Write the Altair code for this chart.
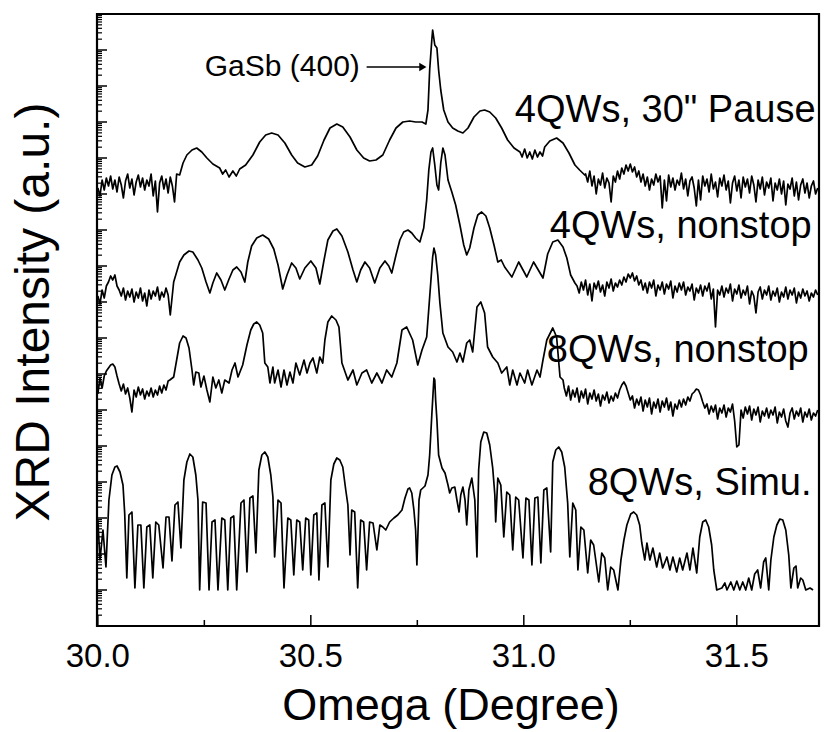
import math
import altair as alt
import pandas as pd

# ---------------------------------------------------------------------------
# Scan data: (omega in degrees, offset log intensity in a.u.)
# ---------------------------------------------------------------------------
pause_30s = [
    (30.000, 438), (30.005, 430), (30.010, 446), (30.015, 436), (30.020, 448), (30.025, 440),
    (30.030, 450), (30.035, 437), (30.040, 446), (30.045, 434), (30.050, 449), (30.055, 441),
    (30.060, 428), (30.065, 445), (30.070, 452), (30.075, 438), (30.080, 447), (30.085, 431),
    (30.090, 444), (30.095, 451), (30.100, 439), (30.105, 448), (30.110, 436), (30.115, 446),
    (30.120, 440), (30.125, 452), (30.130, 430), (30.135, 445), (30.140, 414), (30.145, 443),
    (30.150, 450), (30.155, 437), (30.160, 447), (30.165, 433), (30.170, 449), (30.175, 440),
    (30.180, 424), (30.185, 452),
    (30.192, 451), (30.200, 463), (30.209, 471), (30.221, 476), (30.232, 478), (30.244, 474),
    (30.256, 468), (30.270, 462), (30.286, 458), (30.293, 452), (30.300, 456), (30.308, 449),
    (30.317, 455), (30.325, 450), (30.333, 457), (30.347, 461), (30.364, 471), (30.380, 484),
    (30.394, 491), (30.408, 493), (30.423, 491), (30.439, 483), (30.455, 471), (30.469, 463),
    (30.486, 459), (30.502, 461), (30.516, 470), (30.531, 486), (30.545, 498), (30.561, 502),
    (30.575, 499), (30.592, 489), (30.608, 476), (30.624, 468), (30.638, 465), (30.653, 466),
    (30.669, 471), (30.685, 486), (30.700, 498), (30.716, 504), (30.732, 505), (30.746, 504),
    (30.761, 504), (30.770, 502), (30.775, 516), (30.779, 556), (30.784, 586), (30.786, 596),
    (30.791, 581), (30.796, 578), (30.800, 556), (30.805, 536), (30.812, 516), (30.822, 504),
    (30.833, 498), (30.845, 495), (30.857, 493), (30.869, 498), (30.883, 509), (30.897, 515),
    (30.908, 516), (30.920, 514), (30.934, 508), (30.948, 498), (30.962, 486), (30.977, 478),
    (30.991, 474), (30.996, 469), (31.002, 477), (31.008, 468), (31.014, 474), (31.020, 467),
    (31.026, 476), (31.032, 469), (31.038, 474), (31.044, 470), (31.049, 479), (31.061, 485),
    (31.077, 488), (31.092, 483), (31.106, 473), (31.120, 461), (31.131, 456), (31.143, 451),
    (31.145, 452), (31.150, 444), (31.155, 455), (31.160, 440), (31.165, 450), (31.170, 432),
    (31.175, 447), (31.180, 441), (31.185, 453), (31.190, 438), (31.195, 448), (31.200, 443),
    (31.205, 424), (31.210, 450), (31.215, 444), (31.220, 455), (31.225, 447), (31.230, 458),
    (31.235, 452), (31.240, 461), (31.245, 455), (31.250, 462), (31.255, 454), (31.260, 459),
    (31.265, 449), (31.270, 455), (31.275, 444), (31.280, 452), (31.285, 440), (31.290, 449),
    (31.295, 436), (31.300, 447), (31.305, 441), (31.310, 452), (31.315, 444), (31.320, 450),
    (31.325, 418), (31.330, 446), (31.335, 425), (31.340, 451), (31.345, 439), (31.350, 448),
    (31.355, 436), (31.360, 446), (31.365, 441), (31.370, 453), (31.375, 437), (31.380, 447),
    (31.385, 430), (31.390, 445), (31.395, 449), (31.400, 438), (31.405, 420), (31.410, 446),
    (31.415, 426), (31.420, 450), (31.425, 440), (31.430, 447), (31.435, 434), (31.440, 452),
    (31.445, 437), (31.450, 444), (31.455, 429), (31.460, 448), (31.465, 440), (31.470, 451),
    (31.475, 436), (31.480, 445), (31.485, 423), (31.490, 443), (31.495, 450), (31.500, 435),
    (31.505, 446), (31.510, 428), (31.515, 449), (31.520, 439), (31.525, 447), (31.530, 433),
    (31.535, 450), (31.540, 441), (31.545, 424), (31.550, 446), (31.555, 437), (31.560, 449),
    (31.565, 431), (31.570, 444), (31.575, 438), (31.580, 448), (31.585, 425), (31.590, 443),
    (31.595, 436), (31.600, 447), (31.605, 432), (31.610, 445), (31.615, 421), (31.620, 442),
    (31.625, 437), (31.630, 448), (31.635, 430), (31.640, 444), (31.645, 426), (31.650, 441),
    (31.655, 447), (31.660, 433), (31.665, 443), (31.670, 428), (31.675, 440), (31.680, 445),
    (31.685, 432), (31.690, 438),
]

nonstop_4qw = [
    (30.000, 330), (30.005, 322), (30.010, 336), (30.015, 328), (30.020, 340), (30.025, 344),
    (30.030, 350), (30.035, 346), (30.040, 351), (30.045, 340), (30.050, 336), (30.055, 330),
    (30.060, 338), (30.065, 326), (30.070, 335), (30.075, 329), (30.080, 337), (30.085, 324),
    (30.090, 334), (30.095, 328), (30.100, 338), (30.105, 325), (30.110, 333), (30.115, 320),
    (30.120, 336), (30.125, 327), (30.130, 335), (30.135, 330), (30.140, 339), (30.145, 326),
    (30.150, 334), (30.155, 329), (30.160, 338), (30.165, 331), (30.170, 311),
    (30.178, 344), (30.185, 354), (30.192, 364), (30.202, 371), (30.214, 375), (30.223, 374),
    (30.235, 366), (30.244, 358), (30.254, 344), (30.263, 333), (30.270, 343), (30.279, 353),
    (30.289, 346), (30.298, 336), (30.308, 347), (30.317, 356), (30.326, 359), (30.336, 354),
    (30.345, 344), (30.352, 364), (30.361, 380), (30.373, 388), (30.387, 391), (30.401, 387),
    (30.413, 377), (30.423, 361), (30.434, 337), (30.444, 351), (30.455, 363), (30.465, 358),
    (30.474, 347), (30.486, 358), (30.500, 365), (30.512, 358), (30.521, 342), (30.531, 366),
    (30.540, 386), (30.552, 395), (30.561, 397), (30.573, 390), (30.587, 374), (30.599, 356),
    (30.608, 344), (30.617, 356), (30.627, 364), (30.638, 358), (30.650, 343), (30.662, 358),
    (30.674, 365), (30.683, 360), (30.690, 353), (30.700, 371), (30.709, 386), (30.718, 394),
    (30.728, 396), (30.737, 393), (30.746, 388), (30.756, 384), (30.765, 398), (30.772, 426),
    (30.777, 456), (30.782, 474), (30.786, 478), (30.791, 461), (30.796, 441), (30.800, 436),
    (30.805, 463), (30.810, 478), (30.815, 471), (30.822, 446), (30.831, 434), (30.840, 421),
    (30.850, 401), (30.859, 381), (30.866, 371), (30.873, 378), (30.883, 398), (30.892, 411),
    (30.901, 414), (30.911, 410), (30.920, 398), (30.930, 381), (30.939, 364), (30.947, 366),
    (30.955, 359), (30.972, 349), (30.988, 364), (31.007, 349), (31.023, 364), (31.045, 348),
    (31.056, 372), (31.068, 384), (31.080, 386), (31.092, 379), (31.101, 368), (31.110, 351),
    (31.120, 343),
    (31.125, 340), (31.130, 333), (31.135, 344), (31.140, 336), (31.145, 346), (31.150, 331),
    (31.155, 342), (31.160, 325), (31.165, 343), (31.170, 337), (31.175, 345), (31.180, 334),
    (31.185, 341), (31.190, 330), (31.195, 344), (31.200, 338), (31.205, 347), (31.210, 335),
    (31.215, 343), (31.220, 339), (31.225, 346), (31.230, 341), (31.235, 349), (31.240, 344),
    (31.245, 352), (31.250, 348), (31.255, 353), (31.260, 345), (31.265, 350), (31.270, 341),
    (31.275, 346), (31.280, 336), (31.285, 343), (31.290, 333), (31.295, 344), (31.300, 338),
    (31.305, 346), (31.310, 330), (31.315, 341), (31.320, 336), (31.325, 344), (31.330, 332),
    (31.335, 342), (31.340, 337), (31.345, 345), (31.350, 328), (31.355, 340), (31.360, 334),
    (31.365, 343), (31.370, 336), (31.375, 344), (31.380, 331), (31.385, 339), (31.390, 335),
    (31.395, 342), (31.400, 326), (31.405, 338), (31.410, 333), (31.415, 341), (31.420, 330),
    (31.425, 340), (31.430, 335), (31.435, 343), (31.440, 327), (31.445, 337), (31.450, 299),
    (31.455, 336), (31.460, 331), (31.465, 340), (31.470, 329), (31.475, 338), (31.480, 333),
    (31.485, 342), (31.490, 325), (31.495, 337), (31.500, 332), (31.505, 341), (31.510, 328),
    (31.515, 336), (31.520, 331), (31.525, 340), (31.530, 322), (31.535, 335), (31.540, 330),
    (31.545, 313), (31.550, 334), (31.555, 339), (31.560, 327), (31.565, 336), (31.570, 331),
    (31.575, 340), (31.580, 326), (31.585, 335), (31.590, 330), (31.595, 338), (31.600, 324),
    (31.605, 334), (31.610, 329), (31.615, 339), (31.620, 327), (31.625, 336), (31.630, 331),
    (31.635, 338), (31.640, 323), (31.645, 334), (31.650, 328), (31.655, 337), (31.660, 330),
    (31.665, 335), (31.670, 325), (31.675, 333), (31.680, 329), (31.685, 336), (31.690, 331),
]

nonstop_8qw = [
    (30.000, 232), (30.005, 248), (30.010, 238), (30.015, 250), (30.020, 255), (30.025, 258),
    (30.030, 261), (30.035, 262), (30.040, 259), (30.045, 250), (30.050, 242), (30.055, 235),
    (30.060, 242), (30.065, 232), (30.070, 238), (30.075, 228), (30.080, 214), (30.085, 236),
    (30.090, 229), (30.095, 239), (30.100, 231), (30.105, 237), (30.110, 227), (30.115, 235),
    (30.120, 230), (30.125, 238), (30.130, 229), (30.135, 236), (30.140, 231), (30.145, 240),
    (30.150, 233), (30.155, 241), (30.160, 236), (30.165, 245),
    (30.169, 246), (30.178, 249), (30.185, 266), (30.192, 283), (30.200, 290), (30.207, 288),
    (30.214, 278), (30.221, 256), (30.225, 241), (30.230, 254), (30.237, 253), (30.242, 239),
    (30.249, 250), (30.256, 236), (30.263, 224), (30.270, 249), (30.277, 238), (30.284, 246),
    (30.291, 233), (30.298, 246), (30.308, 243), (30.315, 256), (30.322, 263), (30.329, 249),
    (30.340, 261), (30.350, 281), (30.359, 296), (30.366, 302), (30.373, 304), (30.380, 301),
    (30.387, 293), (30.392, 263), (30.399, 259), (30.404, 243), (30.411, 259), (30.415, 243),
    (30.423, 256), (30.430, 239), (30.437, 256), (30.444, 241), (30.451, 254), (30.458, 243),
    (30.465, 263), (30.474, 251), (30.484, 266), (30.491, 253), (30.498, 263), (30.505, 268),
    (30.514, 253), (30.521, 269), (30.528, 263), (30.533, 286), (30.540, 304), (30.549, 310),
    (30.559, 306), (30.566, 299), (30.573, 263), (30.587, 246), (30.599, 256), (30.608, 241),
    (30.620, 253), (30.631, 256), (30.643, 243), (30.655, 253), (30.667, 243), (30.678, 256),
    (30.690, 249), (30.702, 263), (30.714, 296), (30.725, 299), (30.739, 286), (30.751, 261),
    (30.761, 276), (30.772, 289), (30.779, 329), (30.786, 369), (30.789, 378), (30.793, 371),
    (30.798, 351), (30.803, 323), (30.810, 293), (30.822, 279), (30.833, 274), (30.843, 264),
    (30.850, 273), (30.857, 264), (30.866, 283), (30.873, 286), (30.880, 274), (30.890, 319),
    (30.899, 324), (30.908, 313), (30.915, 279), (30.927, 269), (30.939, 263), (30.948, 253),
    (30.960, 259), (30.967, 241), (30.974, 256), (30.984, 241), (30.991, 253), (31.002, 243),
    (31.009, 256), (31.019, 241), (31.031, 256), (31.038, 249), (31.045, 266), (31.054, 286),
    (31.068, 298), (31.077, 289), (31.085, 249), (31.092, 246),
    (31.095, 238), (31.100, 230), (31.105, 240), (31.110, 226), (31.115, 236), (31.120, 229),
    (31.125, 238), (31.130, 224), (31.135, 235), (31.140, 228), (31.145, 237), (31.150, 222),
    (31.155, 233), (31.160, 227), (31.165, 236), (31.170, 225), (31.175, 232), (31.180, 220),
    (31.185, 231), (31.190, 226), (31.195, 234), (31.200, 223), (31.205, 230), (31.210, 225),
    (31.215, 233), (31.220, 228), (31.225, 236), (31.230, 241), (31.235, 244), (31.240, 240),
    (31.245, 233), (31.250, 226), (31.255, 230), (31.260, 218), (31.265, 227), (31.270, 221),
    (31.275, 229), (31.280, 215), (31.285, 226), (31.290, 219), (31.295, 228), (31.300, 212),
    (31.305, 224), (31.310, 218), (31.315, 227), (31.320, 214), (31.325, 225), (31.330, 219),
    (31.335, 228), (31.340, 216), (31.345, 224), (31.350, 210), (31.355, 222), (31.360, 217),
    (31.365, 226), (31.370, 219), (31.375, 227), (31.380, 221), (31.385, 229), (31.390, 225),
    (31.395, 232), (31.400, 234), (31.405, 237), (31.410, 236), (31.415, 231), (31.420, 224),
    (31.425, 218), (31.430, 222), (31.435, 212), (31.440, 220), (31.445, 214), (31.450, 221),
    (31.455, 207), (31.460, 218), (31.465, 213), (31.470, 221), (31.475, 209), (31.480, 218),
    (31.485, 214), (31.490, 222), (31.495, 205), (31.500, 179), (31.505, 181), (31.510, 216),
    (31.515, 208), (31.520, 219), (31.525, 212), (31.530, 220), (31.535, 206), (31.540, 217),
    (31.545, 211), (31.550, 219), (31.555, 204), (31.560, 215), (31.565, 210), (31.570, 218),
    (31.575, 208), (31.580, 216), (31.585, 211), (31.590, 219), (31.595, 203), (31.600, 214),
    (31.605, 209), (31.610, 217), (31.615, 205), (31.620, 199), (31.625, 213), (31.630, 218),
    (31.635, 207), (31.640, 215), (31.645, 210), (31.650, 218), (31.655, 204), (31.660, 214),
    (31.665, 209), (31.670, 217), (31.675, 206), (31.680, 213), (31.685, 210), (31.690, 216),
]

simulation_8qw = [
    (30.000, 106), (30.005, 66), (30.012, 96), (30.019, 59), (30.026, 126), (30.033, 151),
    (30.040, 159), (30.045, 160), (30.052, 154), (30.059, 141), (30.063, 113), (30.068, 48),
    (30.073, 111), (30.080, 114), (30.087, 38), (30.094, 101), (30.101, 101), (30.108, 38),
    (30.115, 99), (30.122, 101), (30.129, 48), (30.136, 104), (30.143, 101), (30.153, 58),
    (30.160, 109), (30.167, 109), (30.174, 65), (30.181, 121), (30.188, 124), (30.195, 78),
    (30.202, 146), (30.209, 164), (30.216, 172), (30.223, 169), (30.230, 151), (30.235, 126),
    (30.239, 36), (30.246, 124), (30.254, 123), (30.261, 36), (30.268, 104), (30.275, 106),
    (30.282, 36), (30.291, 108), (30.298, 106), (30.305, 36), (30.312, 108), (30.319, 110),
    (30.326, 36), (30.336, 123), (30.343, 126), (30.350, 54), (30.357, 128), (30.364, 130),
    (30.371, 73), (30.378, 156), (30.385, 171), (30.392, 174), (30.399, 169), (30.406, 151),
    (30.411, 129), (30.415, 69), (30.423, 126), (30.430, 123), (30.437, 38), (30.446, 108),
    (30.453, 106), (30.460, 51), (30.467, 106), (30.474, 104), (30.481, 56), (30.488, 108),
    (30.495, 106), (30.500, 51), (30.507, 111), (30.514, 113), (30.519, 46), (30.526, 121),
    (30.533, 123), (30.540, 59), (30.547, 146), (30.554, 162), (30.561, 168), (30.568, 166),
    (30.575, 159), (30.582, 136), (30.587, 121), (30.592, 71), (30.596, 116), (30.603, 114),
    (30.610, 38), (30.617, 106), (30.624, 104), (30.631, 56), (30.638, 104), (30.646, 103),
    (30.655, 76), (30.662, 101), (30.669, 99), (30.676, 96), (30.685, 104), (30.695, 108),
    (30.704, 111), (30.714, 116), (30.721, 128), (30.728, 137), (30.732, 138), (30.737, 133),
    (30.742, 116), (30.746, 96), (30.749, 61), (30.754, 126), (30.758, 136), (30.768, 140),
    (30.775, 151), (30.779, 171), (30.784, 211), (30.789, 248), (30.791, 246), (30.793, 226),
    (30.796, 206), (30.800, 171), (30.808, 158), (30.815, 153), (30.822, 141), (30.826, 133),
    (30.831, 138), (30.838, 139), (30.843, 126), (30.848, 114), (30.852, 131), (30.857, 139),
    (30.862, 126), (30.866, 101), (30.871, 136), (30.878, 148), (30.885, 126), (30.890, 69),
    (30.894, 156), (30.899, 184), (30.906, 194), (30.913, 193), (30.920, 181), (30.927, 158),
    (30.932, 131), (30.934, 104), (30.939, 148), (30.946, 141), (30.953, 89), (30.960, 134),
    (30.967, 131), (30.974, 76), (30.981, 129), (30.988, 126), (30.998, 68), (31.005, 128),
    (31.012, 126), (31.019, 61), (31.026, 128), (31.033, 129), (31.040, 63), (31.047, 136),
    (31.054, 138), (31.063, 74), (31.068, 164), (31.075, 176), (31.082, 179), (31.089, 174),
    (31.096, 159), (31.103, 123), (31.108, 69), (31.115, 123), (31.122, 116), (31.127, 56),
    (31.134, 99), (31.141, 96), (31.150, 53), (31.157, 86), (31.164, 81), (31.176, 44),
    (31.183, 73), (31.190, 68), (31.197, 36), (31.204, 59), (31.211, 56), (31.221, 36),
    (31.228, 66), (31.235, 86), (31.242, 101), (31.251, 112), (31.258, 114), (31.265, 111),
    (31.272, 101), (31.277, 83), (31.284, 66), (31.289, 83), (31.296, 66), (31.303, 78),
    (31.312, 59), (31.319, 73), (31.326, 58), (31.336, 69), (31.343, 56), (31.350, 69),
    (31.359, 54), (31.366, 68), (31.373, 56), (31.383, 73), (31.390, 56), (31.397, 78),
    (31.406, 53), (31.413, 89), (31.420, 104), (31.427, 106), (31.434, 99), (31.441, 81),
    (31.446, 56), (31.453, 36), (31.465, 38), (31.472, 43), (31.477, 36), (31.486, 44),
    (31.493, 36), (31.500, 45), (31.507, 36), (31.514, 44), (31.521, 36), (31.528, 48),
    (31.535, 36), (31.542, 52), (31.549, 56), (31.556, 38), (31.563, 64), (31.568, 68),
    (31.575, 36), (31.580, 66), (31.587, 89), (31.594, 101), (31.601, 107), (31.608, 106),
    (31.615, 96), (31.622, 71), (31.627, 38), (31.634, 58), (31.639, 60), (31.643, 38),
    (31.650, 48), (31.655, 46), (31.662, 36), (31.672, 38), (31.679, 36),
]

scan_names = ['4QWs, 30" Pause', "4QWs, nonstop", "8QWs, nonstop", "8QWs, Simu."]
label_omega = [30.979, 31.061, 31.054, 31.150]
label_level = [504, 388, 264, 131]

peak_note = ["GaSb (400)"]
peak_note_omega = [30.615]
peak_note_level = [559]
arrow_start = [30.631]
arrow_end = [30.763]

x_tick_values = [30.0, 30.5, 31.0, 31.5]
x_tick_text = ["30.0", "30.5", "31.0", "31.5"]
x_minor_ticks = [30.25, 30.75, 31.25]
x_title = "Omega (Degree)"
y_title = "XRD Intensity (a.u.)"
decades = list(range(18))            # one major y tick per decade
minor_factors = [2, 3, 4, 5, 6, 7, 8, 9]
DECADE = 36                          # a.u. per decade

# ---------------------------------------------------------------------------
rows = []
for name, pts in zip(scan_names, [pause_30s, nonstop_4qw, nonstop_8qw, simulation_8qw]):
    for om, iv in pts:
        rows.append({"scan": name, "omega": om, "intensity": iv})
df = pd.DataFrame(rows)

y_major = [DECADE * k for k in decades]
y_minor = [DECADE * k + DECADE * math.log10(m) for k in decades[:-1] for m in minor_factors]

FONT = "Liberation Sans"
W, H = 722, 612
xs = alt.Scale(domain=[29.998, 31.693], nice=False, zero=False)
ys = alt.Scale(domain=[0, 612], nice=False, zero=False)

X = lambda f: alt.X(f, type="quantitative", scale=xs, axis=None)
Y = lambda f: alt.Y(f, type="quantitative", scale=ys, axis=None)

lines = alt.Chart(df).mark_line(
    color="black", strokeWidth=1.7, clip=True, strokeJoin="round"
).encode(x=X("omega"), y=Y("intensity"), detail="scan:N")

y_major_ticks = alt.Chart(pd.DataFrame({"v": y_major})).mark_rule(
    color="black", strokeWidth=1.5
).encode(y=Y("v"), x=alt.value(0), x2=alt.value(10))

y_minor_ticks = alt.Chart(pd.DataFrame({"v": y_minor})).mark_rule(
    color="black", strokeWidth=1.2
).encode(y=Y("v"), x=alt.value(0), x2=alt.value(5))

x_major_ticks = alt.Chart(pd.DataFrame({"o": x_tick_values})).mark_rule(
    color="black", strokeWidth=1.5
).encode(x=X("o"), y=alt.value(H), y2=alt.value(H - 11))

x_small_ticks = alt.Chart(pd.DataFrame({"o": x_minor_ticks})).mark_rule(
    color="black", strokeWidth=1.5
).encode(x=X("o"), y=alt.value(H), y2=alt.value(H - 6))

x_labels = alt.Chart(pd.DataFrame({"o": x_tick_values, "t": x_tick_text})).mark_text(
    align="center", baseline="middle", font=FONT, fontSize=33, color="black"
).encode(x=X("o"), y=alt.value(H + 31), text="t:N")

x_title_mark = alt.Chart(pd.DataFrame({"t": [x_title]})).mark_text(
    align="center", baseline="middle", font=FONT, fontSize=45, color="black"
).encode(x=alt.value(354), y=alt.value(H + 80), text="t:N")

y_title_mark = alt.Chart(pd.DataFrame({"t": [y_title]})).mark_text(
    align="center", baseline="middle", font=FONT, fontSize=48, color="black", angle=270
).encode(x=alt.value(-62), y=alt.value(298), text="t:N")

labels = alt.Chart(pd.DataFrame({
    "omega": label_omega, "intensity": label_level, "label": scan_names
})).mark_text(
    align="left", baseline="alphabetic", font=FONT, fontSize=38, color="black", clip=True
).encode(x=X("omega"), y=Y("intensity"), text="label:N")

note = alt.Chart(pd.DataFrame({
    "omega": peak_note_omega, "intensity": peak_note_level, "label": peak_note
})).mark_text(
    align="right", baseline="middle", font=FONT, fontSize=30, color="black"
).encode(x=X("omega"), y=Y("intensity"), text="label:N")

arrow_df = pd.DataFrame({"start": arrow_start, "end": arrow_end, "level": peak_note_level})
arrow_line = alt.Chart(arrow_df).mark_rule(color="black", strokeWidth=1.6).encode(
    x=X("start"), x2="end:Q", y=Y("level")
)
arrow_head = alt.Chart(arrow_df).mark_point(
    shape="triangle-right", filled=True, size=70, color="black", opacity=1
).encode(x=X("end"), y=Y("level"))

chart = alt.layer(
    lines, y_major_ticks, y_minor_ticks, x_major_ticks, x_small_ticks,
    x_labels, x_title_mark, y_title_mark, labels, note, arrow_line, arrow_head,
).properties(
    width=W, height=H,
    autosize=alt.AutoSizeParams(type="none"),
    padding={"left": 97, "top": 14, "right": 6, "bottom": 106},
    background="white",
).configure_view(stroke="black", strokeWidth=2.2)

chart.save("out.html", embed_options={"renderer": "svg", "actions": False})
